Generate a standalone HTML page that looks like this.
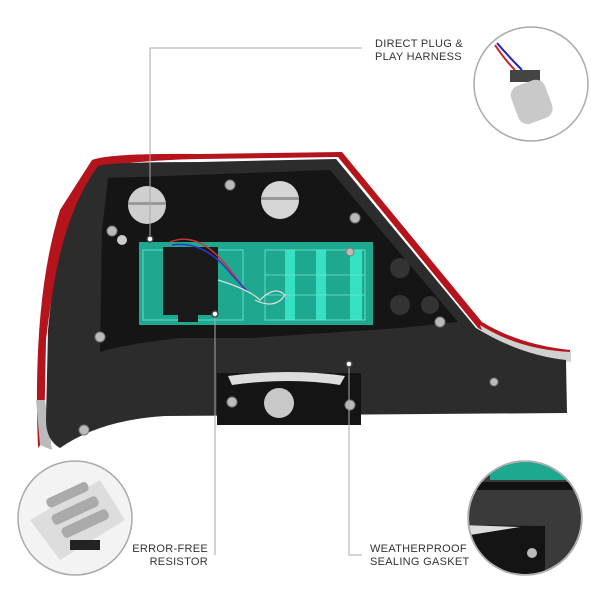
<!DOCTYPE html>
<html><head><style>
body{margin:0;background:#fff;}
svg{display:block;}
text{font-family:"Liberation Sans",sans-serif;font-size:11px;fill:#333;letter-spacing:0.3px;}
</style></head><body>
<svg width="600" height="600" viewBox="0 0 600 600">
<defs>
<clipPath id="c1"><circle cx="531" cy="84" r="56"/></clipPath>
<clipPath id="c2"><circle cx="75" cy="518" r="56"/></clipPath>
<clipPath id="c3"><circle cx="525" cy="518" r="56"/></clipPath>
</defs>
<!-- red lens edge -->
<path d="M92,160 Q110,153 200,154 L342,152 L482,322 Q520,345 570,350 L571,358 Q515,352 478,328 L338,157 L200,159 Q115,161 98,170 Q58,230 46,340 L44,440 L38,448 Q32,300 60,210 Z" fill="#b5141c"/>
<path d="M36,400 L40,445 L52,450 L45,400 Z" fill="#bbb"/>
<path d="M480,325 Q520,350 571,352 L571,362 Q520,358 485,338 Z" fill="#d0d0d0"/>
<!-- main body -->
<path d="M98,166 Q110,162 200,162 L336,159 L476,328 Q520,355 566,360 L567,413 L165,416 Q100,420 60,448 Q46,440 46,420 L48,330 Q58,220 98,166 Z" fill="#2c2c2c"/>
<!-- cavity -->
<path d="M108,178 L330,170 L458,322 L400,328 L250,338 L180,338 Q120,345 100,352 L102,230 Z" fill="#151515"/>
<circle cx="147" cy="205" r="19" fill="#cfcfcf"/><rect x="128" y="202" width="38" height="3" fill="#999"/>
<circle cx="280" cy="200" r="19" fill="#d6d6d6"/><rect x="261" y="197" width="38" height="3" fill="#999"/>
<circle cx="400" cy="268" r="10" fill="#333"/><circle cx="400" cy="305" r="10" fill="#333"/><circle cx="430" cy="305" r="9" fill="#333"/>
<!-- PCB -->
<rect x="139" y="242" width="234" height="83" fill="#1ea88f"/>
<g fill="#36e0c2"><rect x="285" y="250" width="10" height="70"/><rect x="316" y="250" width="10" height="70"/><rect x="350" y="250" width="12" height="70"/></g>
<g stroke="#6fe8d0" stroke-width="0.8" fill="none"><rect x="265" y="250" width="100" height="70"/><line x1="265" y1="275" x2="365" y2="275"/><line x1="265" y1="295" x2="365" y2="295"/><rect x="143" y="250" width="100" height="70"/></g>
<rect x="163" y="247" width="55" height="68" fill="#1a1a1a"/>
<rect x="178" y="312" width="20" height="10" fill="#1a1a1a"/>
<path d="M170,242 Q200,230 230,270 L245,290" stroke="#c33" stroke-width="1.5" fill="none"/>
<path d="M172,245 Q205,240 232,275 L248,292" stroke="#33c" stroke-width="1.5" fill="none"/>
<path d="M218,280 Q250,290 260,300 Q275,285 285,295 Q275,310 255,300" stroke="#ddd" stroke-width="1.2" fill="none"/>
<circle cx="122" cy="240" r="5" fill="#ccc"/>
<!-- gasket -->
<rect x="217" y="373" width="144" height="52" fill="#141414"/>
<path d="M228,376 Q290,368 345,376 L340,385 Q290,377 232,385 Z" fill="#ddd"/>
<circle cx="279" cy="403" r="15" fill="#c8c8c8"/>
<!-- bolts -->
<g fill="#bbb" stroke="#777" stroke-width="1">
<circle cx="112" cy="231" r="5"/><circle cx="230" cy="185" r="5"/><circle cx="355" cy="218" r="5"/><circle cx="100" cy="337" r="5"/><circle cx="440" cy="322" r="5"/><circle cx="84" cy="430" r="5"/><circle cx="232" cy="402" r="5"/><circle cx="350" cy="405" r="5"/><circle cx="494" cy="382" r="4"/><circle cx="350" cy="252" r="4"/>
</g>
<!-- callout lines -->
<g stroke="#aaa" stroke-width="1" fill="none">
<polyline points="150,238 150,48 362,48"/>
<polyline points="215,315 215,555"/>
<polyline points="349,365 349,555 362,555"/>
</g>
<g fill="#fff" stroke="#444" stroke-width="1.5"><circle cx="150" cy="239" r="3"/><circle cx="215" cy="314" r="3"/><circle cx="349" cy="364" r="3"/></g>
<text x="375" y="47">DIRECT PLUG &amp;</text>
<text x="375" y="60">PLAY HARNESS</text>
<text x="208" y="552" text-anchor="end">ERROR-FREE</text>
<text x="208" y="565" text-anchor="end">RESISTOR</text>
<text x="370" y="552">WEATHERPROOF</text>
<text x="370" y="565">SEALING GASKET</text>
<!-- circles -->
<circle cx="531" cy="84" r="57" fill="#fff" stroke="#aaa" stroke-width="1.5"/>
<g clip-path="url(#c1)">
<path d="M495,45 Q505,60 515,70" stroke="#c22" stroke-width="2" fill="none"/>
<path d="M497,43 Q510,58 522,70" stroke="#22c" stroke-width="2" fill="none"/>
<rect x="510" y="70" width="30" height="12" fill="#444"/>
<rect x="513" y="82" width="36" height="40" rx="10" fill="#c9c9c9" transform="rotate(-20 531 100)"/>
</g>
<circle cx="75" cy="518" r="57" fill="#f3f3f3" stroke="#aaa" stroke-width="1.5"/>
<g clip-path="url(#c2)">
<path d="M30,520 L100,480 L125,520 L60,560 Z" fill="#ddd"/>
<g fill="#aaa"><rect x="45" y="490" width="45" height="10" rx="4" transform="rotate(-25 67 495)"/><rect x="50" y="505" width="50" height="11" rx="4" transform="rotate(-25 75 510)"/><rect x="60" y="518" width="50" height="11" rx="4" transform="rotate(-25 85 523)"/></g>
<rect x="70" y="540" width="30" height="10" fill="#222"/>
</g>
<circle cx="525" cy="518" r="57" fill="#fff" stroke="#aaa" stroke-width="1.5"/>
<g clip-path="url(#c3)">
<rect x="460" y="455" width="130" height="130" fill="#3a3a3a"/>
<rect x="490" y="460" width="85" height="20" fill="#1ea88f"/>
<rect x="460" y="482" width="130" height="8" fill="#111"/>
<path d="M460,525 L545,526 L545,580 L460,580 Z" fill="#141414"/>
<path d="M460,525 L520,527 L470,535 L460,535 Z" fill="#ddd"/>
<circle cx="532" cy="553" r="5" fill="#bbb"/>
</g>
</svg>
</body></html>
